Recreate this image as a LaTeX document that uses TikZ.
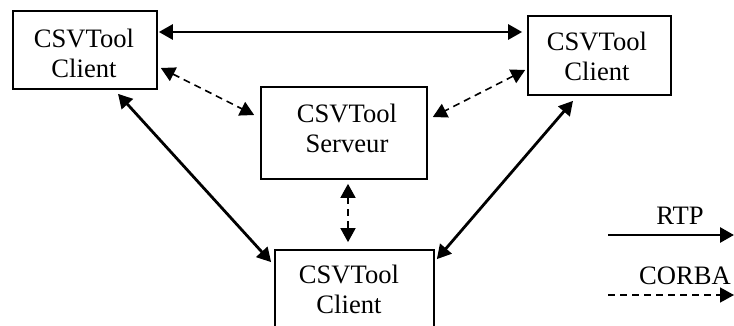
\documentclass[tikz,border=0pt]{standalone}
\usepackage{fontspec}
\setmainfont{Liberation Serif}
\usetikzlibrary{arrows.meta,calc}
\begin{document}
\begin{tikzpicture}[x=0.5pt,y=-0.5pt,
  box/.style={draw,line width=0.85pt,inner sep=0pt},
  txt/.style={font=\fontsize{13.3}{15}\selectfont,align=center,inner sep=0pt},
  tip/.style={Triangle[length=7pt,width=7.5pt]},
  rtp/.style={line width=1.4pt,{Triangle[length=7pt,width=7.5pt]}-{Triangle[length=7pt,width=7.5pt]}},
  corba/.style={line width=0.8pt,dash pattern=on 3.5pt off 2.5pt,{Triangle[length=7pt,width=7.5pt]}-{Triangle[length=7pt,width=7.5pt]}},
  rtpone/.style={line width=1.4pt,-{Triangle[length=7pt,width=7.5pt]}},
  corbaone/.style={line width=0.8pt,dash pattern=on 3.5pt off 2.5pt,-{Triangle[length=7pt,width=7.5pt]}}]
\useasboundingbox (0,0) rectangle (734,326);
\clip (0,0) rectangle (734,326);
% boxes
\node[box,minimum width=72pt,minimum height=39pt] (a) at (85,50) {};
\node[box,minimum width=71.5pt,minimum height=39.5pt] (b) at (599.5,55.5) {};
\node[box,minimum width=83pt,minimum height=46pt] (s) at (344,133) {};
\node[box,minimum width=79.5pt,minimum height=46pt] (c) at (354.5,296) {};
% texts
\node[txt] (at) at (84,53) {CSVTool\\Client};
\node[txt] (bt) at (597,56) {CSVTool\\Client};
\node[txt] (st) at (347,128) {CSVTool\\Serveur};
\node[txt] (ct) at (349,289) {CSVTool\\Client};
% connectors
\draw[rtp] ($(a.east)+(1,-18)$) -- ($(b.west)+(-5,-23.5)$);
\draw[corba] ($(a.east)+(3,18)$) -- ($(s.west)+(-6,-18)$);
\draw[corba] ($(b.west)+(-2,14.5)$) -- ($(s.east)+(5,-16)$);
\draw[rtp] ($(a.south)+(33,4)$) -- ($(c.north west)+(-3,13)$);
\draw[rtp] ($(b.south)+(-26.5,5)$) -- ($(c.north east)+(2,10)$);
\draw[corba] ($(s.south)+(4,4)$) -- ($(c.north)+(-6.5,-7)$);
% legend
\coordinate (l1s) at (608,235);
\coordinate (l1e) at (734,235);
\coordinate (l2s) at (608,295);
\coordinate (l2e) at (734,295);
\draw[rtpone] (l1s) -- (l1e);
\draw[corbaone] (l2s) -- (l2e);
\node[txt,anchor=base] (lrtp) at (680,225) {RTP};
\node[txt,anchor=base] (lcorba) at (685,285) {CORBA};
\end{tikzpicture}
\end{document}
